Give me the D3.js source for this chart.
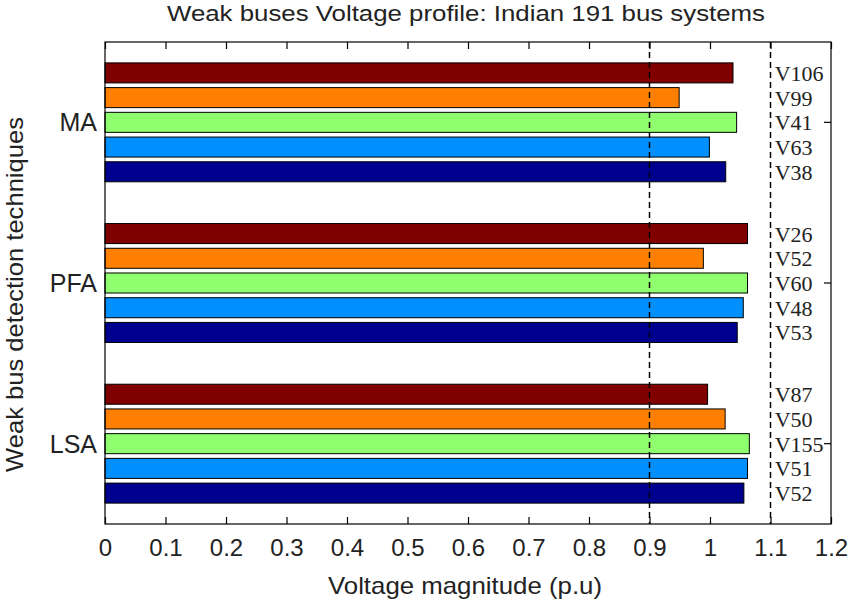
<!DOCTYPE html>
<html>
<head>
<meta charset="utf-8">
<script src="https://cdn.jsdelivr.net/npm/d3@7"></script>
<style>
  html, body { margin: 0; padding: 0; background: #fff; }
  svg { display: block; }
</style>
</head>
<body>
<div id="chart"></div>
<script>
// ---- data (top-to-bottom order) ----
const categories = ["MA", "PFA", "LSA"];
const seriesColors = ["#800000", "#ff8000", "#8fff70", "#008fff", "#00008f"];
const valuesMA  = [1.038, 0.949, 1.044, 0.999, 1.026];
const valuesPFA = [1.062, 0.989, 1.062, 1.055, 1.045];
const valuesLSA = [0.996, 1.025, 1.065, 1.062, 1.056];
const labelsMA  = ["V106", "V99", "V41", "V63", "V38"];
const labelsPFA = ["V26", "V52", "V60", "V48", "V53"];
const labelsLSA = ["V87", "V50", "V155", "V51", "V52"];
const xTicks = [0, 0.1, 0.2, 0.3, 0.4, 0.5, 0.6, 0.7, 0.8, 0.9, 1, 1.1, 1.2];
const refLines = [0.9, 1.1];
const titleText = "Weak buses Voltage profile: Indian 191 bus systems";
const xLabelText = "Voltage magnitude (p.u)";
const yLabelText = "Weak bus detection techniques";

const valuesByCat = { MA: valuesMA, PFA: valuesPFA, LSA: valuesLSA };
const labelsByCat = { MA: labelsMA, PFA: labelsPFA, LSA: labelsLSA };

(function () {
const W = 851, H = 599;
const mLeft = 105, mRight = 831, mTop = 42, mBottom = 524;

const svg = d3.select("#chart").append("svg")
  .attr("width", W).attr("height", H);

const x = d3.scaleLinear().domain([0, 1.2]).range([mLeft, mRight]);
const y = d3.scaleBand().domain(categories).range([mTop, mBottom]).paddingInner(0).paddingOuter(0);
const groupW = y.step() * (5 / 6.5);
const seriesIdx = d3.range(seriesColors.length);

const sans = "'Liberation Sans', Arial, sans-serif";
const serif = "'Liberation Serif', 'Times New Roman', serif";

// bars
categories.forEach(cat => {
  const c = y(cat) + y.bandwidth() / 2;
  const inner = d3.scaleBand().domain(seriesIdx)
    .range([c - groupW / 2, c + groupW / 2])
    .paddingInner(0.19).paddingOuter(0.095);
  const g = svg.append("g");
  g.selectAll("rect").data(valuesByCat[cat]).join("rect")
    .attr("x", x(0))
    .attr("y", (d, i) => inner(i))
    .attr("width", d => x(d) - x(0))
    .attr("height", inner.bandwidth())
    .attr("fill", (d, i) => seriesColors[i])
    .attr("stroke", "#000")
    .attr("stroke-width", 1);
  g.selectAll("text").data(labelsByCat[cat]).join("text")
    .attr("x", x(1.107))
    .attr("y", (d, i) => inner(i) + inner.bandwidth() / 2 + 8)
    .attr("font-family", serif)
    .attr("font-size", 22)
    .attr("fill", "#222")
    .text(d => d);
});

// reference dashed lines
svg.selectAll("line.ref").data(refLines).join("line")
  .attr("class", "ref")
  .attr("x1", d => x(d)).attr("x2", d => x(d))
  .attr("y1", mTop).attr("y2", mBottom)
  .attr("stroke", "#000").attr("stroke-width", 1.5)
  .attr("stroke-dasharray", "6,4");

// axes box
svg.append("rect")
  .attr("x", mLeft).attr("y", mTop)
  .attr("width", mRight - mLeft).attr("height", mBottom - mTop)
  .attr("fill", "none").attr("stroke", "#000").attr("stroke-width", 1.2);

// x ticks bottom (inward) with labels
const xAxisB = d3.axisBottom(x).tickValues(xTicks).tickSize(-7).tickFormat(d3.format("~g"));
const gxb = svg.append("g").attr("transform", `translate(0,${mBottom})`).call(xAxisB);
gxb.select(".domain").remove();
gxb.selectAll(".tick line").attr("stroke", "#000").attr("stroke-width", 1.2);
gxb.selectAll(".tick text")
  .attr("font-family", sans).attr("font-size", 24).attr("fill", "#222")
  .attr("dy", null).attr("y", 32);

// top ticks
const xAxisT = d3.axisTop(x).tickValues(xTicks).tickSize(-7).tickFormat("");
const gxt = svg.append("g").attr("transform", `translate(0,${mTop})`).call(xAxisT);
gxt.select(".domain").remove();
gxt.selectAll(".tick line").attr("stroke", "#000").attr("stroke-width", 1.2);

// y axis left (category labels)
const yAxisL = d3.axisLeft(y).tickSize(0);
const gyl = svg.append("g").attr("transform", `translate(${mLeft},0)`).call(yAxisL);
gyl.select(".domain").remove();
gyl.selectAll(".tick text")
  .attr("font-family", sans).attr("font-size", 25).attr("fill", "#222")
  .attr("dy", "0.36em").attr("x", -8);

// right ticks
const yAxisR = d3.axisRight(y).tickSize(-7).tickFormat("");
const gyr = svg.append("g").attr("transform", `translate(${mRight},0)`).call(yAxisR);
gyr.select(".domain").remove();
gyr.selectAll(".tick line").attr("stroke", "#000").attr("stroke-width", 1.2);

// title
svg.append("text")
  .attr("x", 466).attr("y", 21)
  .attr("text-anchor", "middle")
  .attr("font-family", sans).attr("font-size", 22).attr("fill", "#222")
  .attr("textLength", 598).attr("lengthAdjust", "spacingAndGlyphs")
  .text(titleText);

// x label
svg.append("text")
  .attr("x", 465).attr("y", 594)
  .attr("text-anchor", "middle")
  .attr("font-family", sans).attr("font-size", 24).attr("fill", "#222")
  .attr("textLength", 274).attr("lengthAdjust", "spacingAndGlyphs")
  .text(xLabelText);

// y label
svg.append("text")
  .attr("transform", "translate(23,294.5) rotate(-90)")
  .attr("text-anchor", "middle")
  .attr("font-family", sans).attr("font-size", 24).attr("fill", "#222")
  .attr("textLength", 355).attr("lengthAdjust", "spacingAndGlyphs")
  .text(yLabelText);
})();
</script>
</body>
</html>
